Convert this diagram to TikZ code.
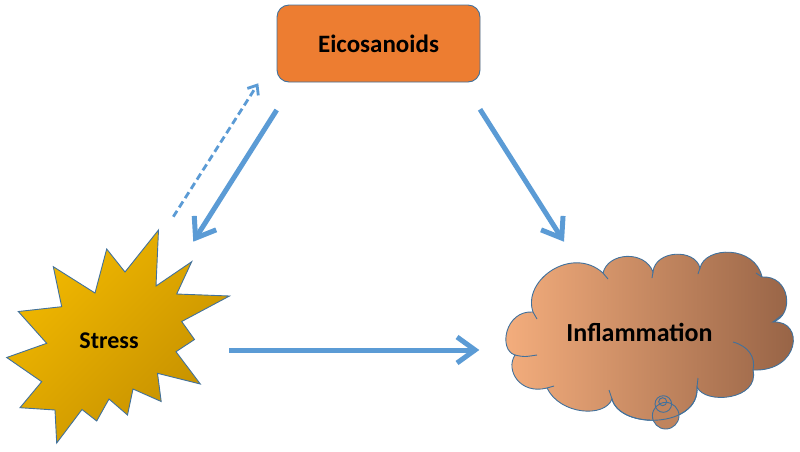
\documentclass[tikz,border=0pt]{standalone}
\usepackage{fontspec}
\setmainfont{Carlito}
\usetikzlibrary{arrows.meta}
\definecolor{arrowblue}{HTML}{5B9BD5}
\definecolor{edgeblue}{HTML}{41719C}
\definecolor{eicofill}{HTML}{ED7D31}
\definecolor{starL}{HTML}{F2B900}
\definecolor{starD}{HTML}{C48F00}
\definecolor{cloudL}{HTML}{F6AF7E}
\definecolor{cloudR}{HTML}{946144}
\begin{document}
\begin{tikzpicture}[x=1pt,y=-1pt,
  conn/.style={draw=arrowblue, line width=5pt, -{Straight Barb[length=18pt,width=26pt]}},
  dconn/.style={draw=arrowblue, line width=2.8pt, dash pattern=on 7pt off 4pt, -{Straight Barb[length=8pt,width=13pt]}},
  lbl/.style={font=\fontsize{25}{30}\selectfont\bfseries, text=black, inner sep=0pt},
  outline/.style={draw=edgeblue, line width=0.9pt}]
\useasboundingbox (0,0) rectangle (800,451);

% Eicosanoids box
\node[draw=edgeblue, line width=0.9pt, fill=eicofill, rounded corners=12pt,
      minimum width=203pt, minimum height=77pt, lbl] (eico) at (378.5,43.5) {Eicosanoids};

% Stress star
\path[outline, top color=starL, bottom color=starD, shading angle=45]
  (158.5,230) -- (156,286) -- (191.7,261.7) -- (176.7,294) -- (229.5,296)
  -- (181.7,321.5) -- (194.5,339.5) -- (176,351.7) -- (200.3,384)
  -- (157.5,373.3) -- (161.2,401.5) -- (133,389) -- (127.5,415)
  -- (109,399) -- (96.7,421) -- (82,409.5) -- (56.7,443) -- (55,410)
  -- (20,407.7) -- (41.7,381.7) -- (6.7,357.5) -- (46.7,343.3)
  -- (18.3,311.5) -- (61.7,306.7) -- (53.3,266.7) -- (95,293)
  -- (106.7,249) -- (125,272) -- cycle;
\node[lbl, font=\fontsize{24}{29}\selectfont\bfseries, anchor=base] (stress) at (109,348) {Stress};

% Inflammation cloud
\path[outline, left color=cloudL, right color=cloudR]
  (533,312) .. controls (522,280) and (572,245) .. (603,273)
  .. controls (608,252) and (645,250) .. (653,272)
  .. controls (655,250) and (695,248) .. (700,268)
  .. controls (705,246) and (755,245) .. (762,277)
  .. controls (790,275) and (795,315) .. (773,322)
  .. controls (805,320) and (800,372) .. (753,370)
  .. controls (760,400) and (705,405) .. (697,387)
  .. controls (700,428) and (620,430) .. (612,399)
  .. controls (605,418) and (560,415) .. (547,388)
  .. controls (520,395) and (505,370) .. (515,355)
  .. controls (498,350) and (505,310) .. (533,312) -- cycle;
% small circles of the callout
\fill[cloudL!45!cloudR] (665.7,415.7) circle[radius=13.3];
\draw[outline] (697,387) .. controls (700,428) and (620,430) .. (612,399);
\draw[outline] (665.7,415.7) circle[radius=13.3];
\draw[outline] (663.3,404) circle[radius=8.3];
\draw[outline] (662.7,401.7) circle[radius=4];
% inner stubs
\draw[outline] (515,355) .. controls (524,357) .. (537,355);
\draw[outline] (547,388) .. controls (550,386.5) .. (554,386);
\draw[outline] (612,399) .. controls (611,394) .. (609,390);
\draw[outline] (603,273) -- (608,279);
\draw[outline] (653,272) -- (652,278);
\draw[outline] (700,268) -- (698,274);
\draw[outline] (762,277) -- (756,273);
\draw[outline] (773,322) -- (782,315);
\draw[outline] (733,342) .. controls (748,346) and (756,357) .. (753,370);
\draw[outline] (697,387) -- (698,378);
\draw[outline] (533,312) -- (537,319);
\node[lbl, font=\fontsize{26}{31}\selectfont\bfseries, anchor=base] (infl) at (639.5,341.7) {Inflammation};

% connectors
\coordinate (es1) at (276.7,110);
\coordinate (es2) at (193.3,241.7);
\coordinate (se1) at (173.3,216.7);
\coordinate (se2) at (258.3,83.3);
\coordinate (ei1) at (480,109.3);
\coordinate (ei2) at (564,241.7);
\coordinate (si1) at (229,350);
\coordinate (si2) at (479.3,350);
\draw[conn] (es1) -- (es2);
\draw[dconn] (se1) -- (se2);
\draw[conn] (ei1) -- (ei2);
\draw[conn] (si1) -- (si2);
\end{tikzpicture}
\end{document}
